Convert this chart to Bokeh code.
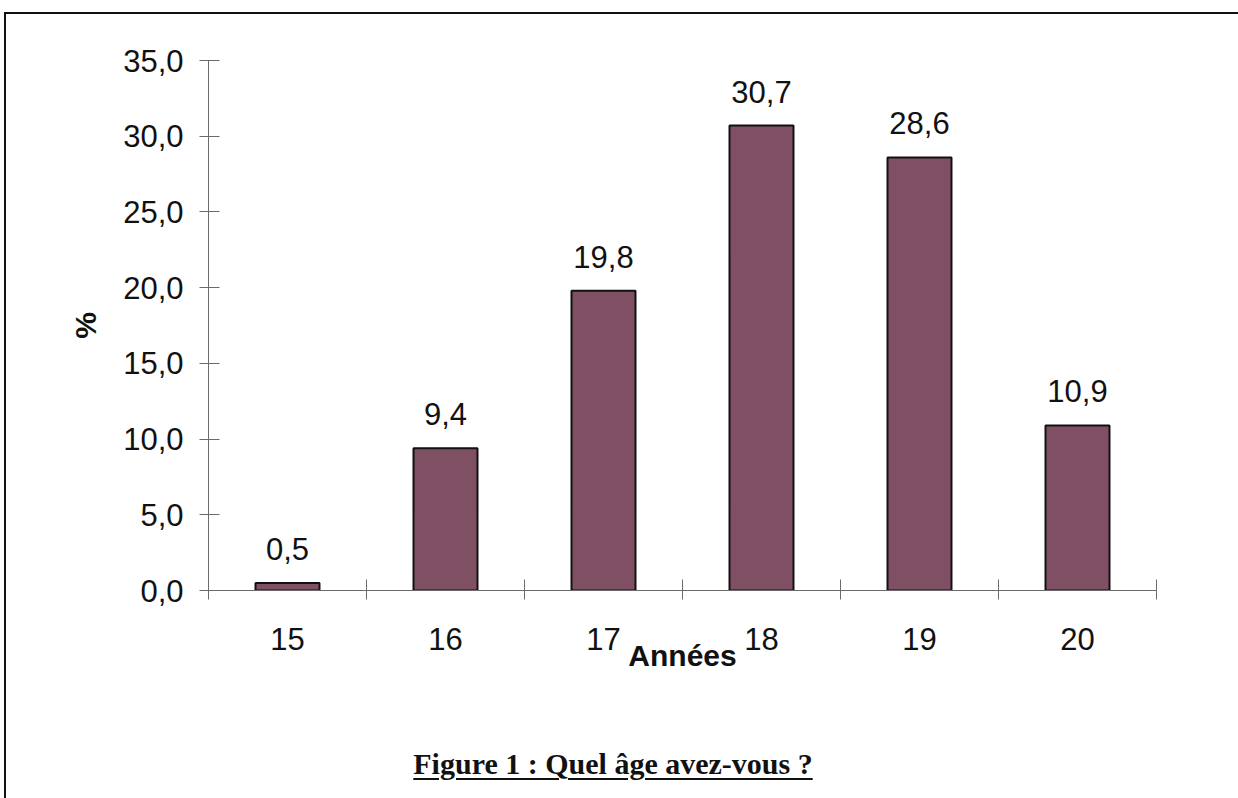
from bokeh.plotting import figure
from bokeh.models import ColumnDataSource, FixedTicker, LabelSet, Range1d, Div
from bokeh.layouts import column
from bokeh.core.properties import value
from bokeh.embed import file_html
from bokeh.resources import INLINE

# Répartition des répondants par âge
ages = ["15", "16", "17", "18", "19", "20"]
percentages = [0.5, 9.4, 19.8, 30.7, 28.6, 10.9]
y_ticks = [0, 5, 10, 15, 20, 25, 30, 35]
y_tick_labels = ["0,0", "5,0", "10,0", "15,0", "20,0", "25,0", "30,0", "35,0"]
caption_text = "Figure 1 : Quel âge avez-vous ?"

SANS = "Liberation Sans"
SERIF = "Liberation Serif"
INK = "#111111"
AXIS_GREY = "#6b6b6b"
BAR_COLOR = "#7f5064"


def fr(v):
    return f"{v:.1f}".replace(".", ",")


centers = [i + 0.5 for i in range(len(ages))]
source = ColumnDataSource(dict(
    x=centers,
    top=percentages,
    label=[fr(v) for v in percentages],
))

p = figure(width=1232, height=727, output_backend="svg", toolbar_location=None,
           x_range=Range1d(0, len(ages)), y_range=Range1d(0, 35),
           min_border_left=202, min_border_right=82,
           min_border_top=46, min_border_bottom=151)
p.outline_line_color = None
p.grid.visible = False
p.background_fill_color = "white"
p.border_fill_color = "white"

p.vbar(x="x", top="top", width=0.405, source=source,
       fill_color=BAR_COLOR, line_color=INK, line_width=2)

p.add_layout(LabelSet(x="x", y="top", text="label", source=source,
                      y_offset=23, text_align="center", text_baseline="alphabetic",
                      text_font=value(SANS), text_font_size=value("31px"),
                      text_color=INK))

# Axe des abscisses : libellés au centre, graduations entre les catégories
xax = p.xaxis[0]
xax.ticker = FixedTicker(ticks=centers, minor_ticks=list(range(len(ages) + 1)))
xax.major_label_overrides = {c: a for c, a in zip(centers, ages)}
xax.major_tick_in = 0
xax.major_tick_out = 0
xax.minor_tick_in = 11
xax.minor_tick_out = 9
xax.minor_tick_line_color = AXIS_GREY
xax.axis_line_color = AXIS_GREY
xax.major_label_standoff = 28
xax.major_label_text_font = SANS
xax.major_label_text_font_size = "31px"
xax.major_label_text_color = INK
xax.axis_label = "Années"
xax.axis_label_text_font = SANS
xax.axis_label_text_font_style = "bold"
xax.axis_label_text_font_size = "30px"
xax.axis_label_text_color = INK
xax.axis_label_standoff = -14

# Axe des ordonnées
yax = p.yaxis[0]
yax.ticker = FixedTicker(ticks=y_ticks, minor_ticks=[])
yax.major_label_overrides = {t: l for t, l in zip(y_ticks, y_tick_labels)}
yax.major_tick_in = 11
yax.major_tick_out = 9
yax.major_tick_line_color = AXIS_GREY
yax.axis_line_color = AXIS_GREY
yax.major_label_standoff = 16
yax.major_label_text_font = SANS
yax.major_label_text_font_size = "31px"
yax.major_label_text_color = INK
yax.axis_label = "%"
yax.axis_label_text_font = SANS
yax.axis_label_text_font_style = "bold"
yax.axis_label_text_font_size = "30px"
yax.axis_label_text_color = INK
yax.axis_label_standoff = 18

# Légende de la figure, soulignée
caption = Div(
    text=(f'<div style="width:1204px;text-align:center;font-family:\'{SERIF}\';'
          f'font-weight:bold;font-size:30px;line-height:36px;color:{INK};">'
          f'<u style="text-decoration-thickness:2px;text-underline-offset:4px;">'
          f'{caption_text}</u></div>'),
    width=1204, height=60)

# Cadre extérieur (bords gauche et haut)
page = column(p, caption, spacing=0,
              styles={"margin-left": "4px", "margin-top": "12px",
                      "border-left": "2px solid #111111",
                      "border-top": "2px solid #111111",
                      "background-color": "white"})

open("out.html", "w").write(file_html(page, INLINE))
